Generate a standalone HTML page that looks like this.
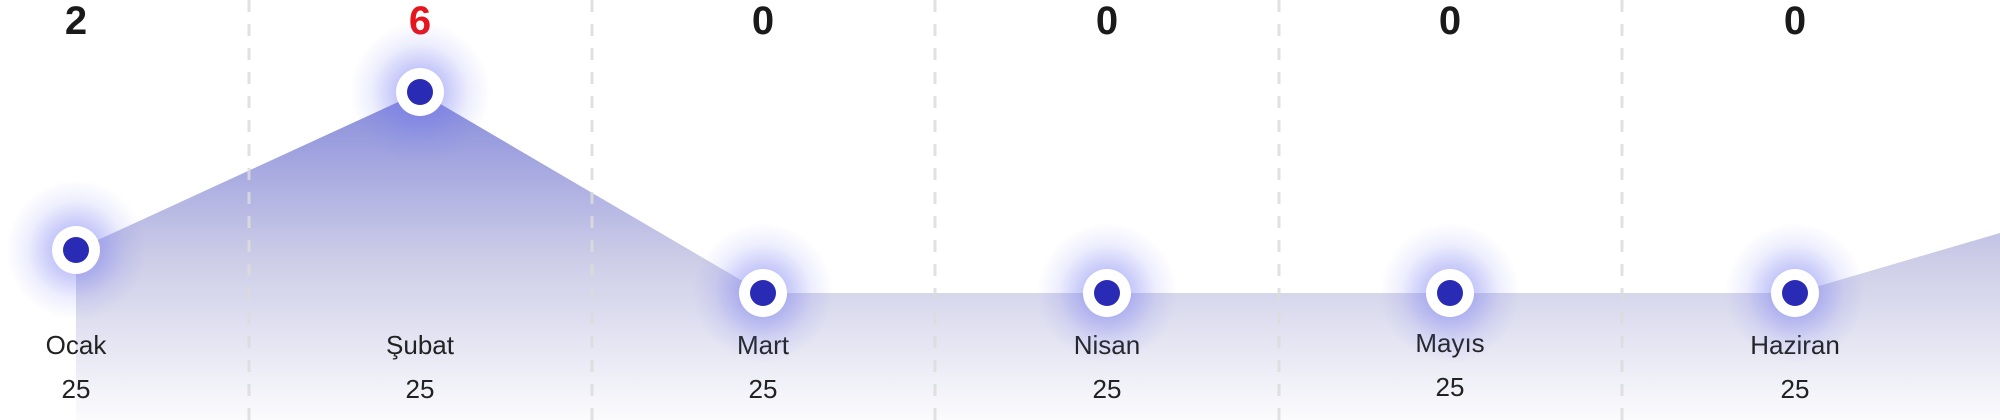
<!DOCTYPE html>
<html><head><style>
html,body{margin:0;padding:0;background:#fff;width:2000px;height:420px;overflow:hidden}
svg{display:block}
text{font-family:"Liberation Sans","DejaVu Sans",sans-serif}
</style></head><body>
<svg width="2000" height="420" viewBox="0 0 2000 420" xmlns="http://www.w3.org/2000/svg">
<defs>
<linearGradient id="g" x1="0" y1="92" x2="0" y2="420" gradientUnits="userSpaceOnUse">
<stop offset="0" stop-color="#7f84d8"/>
<stop offset="0.5" stop-color="#c9c9e6"/>
<stop offset="1" stop-color="#fbfbfd"/>
</linearGradient>
<radialGradient id="glow">
<stop offset="0.35" stop-color="#7075f0" stop-opacity="0.4"/>
<stop offset="0.7" stop-color="#7075f0" stop-opacity="0.12"/>
<stop offset="1" stop-color="#7075f0" stop-opacity="0"/>
</radialGradient>
</defs>
<polygon points="76,250 420,92 763,293 1107,293 1450,293 1795,293 2000,233 2000,420 76,420" fill="url(#g)" opacity="0.95"/>
<g stroke="#dcdcdc" stroke-opacity="0.85" stroke-width="3" stroke-dasharray="12 12">
<line x1="249" y1="0" x2="249" y2="420"/>
<line x1="592" y1="0" x2="592" y2="420"/>
<line x1="935" y1="0" x2="935" y2="420"/>
<line x1="1279" y1="0" x2="1279" y2="420"/>
<line x1="1622" y1="0" x2="1622" y2="420"/>
</g>
<g font-size="40" font-weight="bold" text-anchor="middle" fill="#1a1a1a">
<text x="76" y="34">2</text>
<text x="420" y="34" fill="#e8141c">6</text>
<text x="763" y="34">0</text>
<text x="1107" y="34">0</text>
<text x="1450" y="34">0</text>
<text x="1795" y="34">0</text>
</g>
<g font-size="26" text-anchor="middle" fill="#222">
<text x="76" y="354">Ocak</text><text x="76" y="398">25</text>
<text x="420" y="354">Şubat</text><text x="420" y="398">25</text>
<text x="763" y="354">Mart</text><text x="763" y="398">25</text>
<text x="1107" y="354">Nisan</text><text x="1107" y="398">25</text>
<text x="1450" y="352">Mayıs</text><text x="1450" y="396">25</text>
<text x="1795" y="354">Haziran</text><text x="1795" y="398">25</text>
</g>
<g>
<circle cx="76" cy="250" r="70" fill="url(#glow)"/>
<circle cx="420" cy="92" r="70" fill="url(#glow)"/>
<circle cx="763" cy="293" r="70" fill="url(#glow)"/>
<circle cx="1107" cy="293" r="70" fill="url(#glow)"/>
<circle cx="1450" cy="293" r="70" fill="url(#glow)"/>
<circle cx="1795" cy="293" r="70" fill="url(#glow)"/>
</g>
<g fill="#fff">
<circle cx="76" cy="250" r="24"/><circle cx="420" cy="92" r="24"/><circle cx="763" cy="293" r="24"/>
<circle cx="1107" cy="293" r="24"/><circle cx="1450" cy="293" r="24"/><circle cx="1795" cy="293" r="24"/>
</g>
<g fill="#2a2bb5">
<circle cx="76" cy="250" r="13"/><circle cx="420" cy="92" r="13"/><circle cx="763" cy="293" r="13"/>
<circle cx="1107" cy="293" r="13"/><circle cx="1450" cy="293" r="13"/><circle cx="1795" cy="293" r="13"/>
</g>
</svg>
</body></html>
